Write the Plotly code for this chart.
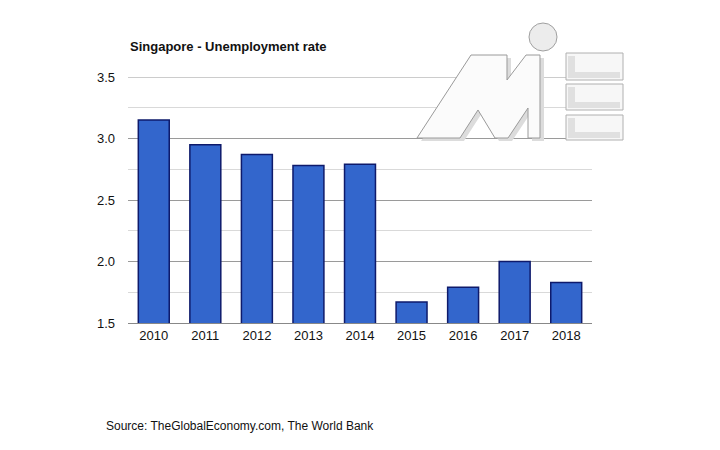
import plotly.graph_objects as go

years = ["2010", "2011", "2012", "2013", "2014", "2015", "2016", "2017", "2018"]
unemployment = [3.15, 2.95, 2.87, 2.78, 2.79, 1.67, 1.79, 2.00, 1.83]
y_ticks = [1.5, 2.0, 2.5, 3.0, 3.5]

L, R, T, B = 128, 592, 77, 323
W, H = 720, 450

def px(x):
    return (x - L) / (R - L)

def py(y):
    return (B - y) / (B - T)

fig = go.Figure()
fig.add_trace(go.Bar(
    x=years, y=unemployment,
    marker=dict(color="#3366CC", line=dict(color="#0E1A6B", width=1.5)),
    hoverinfo="x+y",
))

shapes = []
# top gridline at 3.5
shapes.append(dict(type="line", xref="paper", yref="y", x0=0, x1=1, y0=3.5, y1=3.5,
                   line=dict(color="#9a9a9a", width=1), layer="below"))

def poly(pts, fill, line, width=1):
    d = "M " + " L ".join(f"{px(a):.4f},{py(b):.4f}" for a, b in pts) + " Z"
    return dict(type="path", path=d, xref="paper", yref="paper",
                fillcolor=fill, line=dict(color=line, width=width), layer="above")

m_pts = [(417,138),(471,55),(507,55),(507,80),(526,55),(540,55),(540,138),
         (528,138),(528,108),(508,138),(495,138),(478,110),(460,138)]
shadow = [(a+4, b+3) for a, b in m_pts]
shapes.append(poly(shadow, "#dcdcdc", "rgba(0,0,0,0)", 0))
shapes.append(poly(m_pts, "#fbfbfb", "#9a9a9a", 1))
shapes.append(dict(type="circle", xref="paper", yref="paper",
                   x0=px(529), x1=px(557), y0=py(51), y1=py(23),
                   fillcolor="#ececec", line=dict(color="#a0a0a0", width=1), layer="above"))
for top, bot in [(53, 80), (84, 110), (115, 140)]:
    shapes.append(dict(type="rect", xref="paper", yref="paper",
                       x0=px(566), x1=px(623), y0=py(bot), y1=py(top),
                       fillcolor="#f7f7f7", line=dict(color="#b0b0b0", width=1), layer="above"))
    # soft L-shaped shading inside
    shapes.append(poly([(568, top+3), (575, top+3), (575, bot-8), (620, bot-8),
                        (620, bot-2), (568, bot-2)], "#e0e0e0", "rgba(0,0,0,0)", 0))

fig.update_layout(
    width=W, height=H,
    margin=dict(l=L, r=W - R, t=T, b=H - B),
    paper_bgcolor="white", plot_bgcolor="white",
    showlegend=False,
    bargap=0.4,
    font=dict(family="Liberation Sans, Arial, sans-serif", size=13, color="#222"),
    xaxis=dict(showgrid=False, showline=True, linecolor="#888", linewidth=1,
               ticks="", tickfont=dict(size=13, color="#111")),
    yaxis=dict(range=[1.5, 3.5], tickvals=y_ticks, tickformat=".1f",
               showgrid=True, gridcolor="#9a9a9a", gridwidth=1,
               zeroline=False, ticks="", ticklabelstandoff=12,
               tickfont=dict(size=13, color="#111"),
               minor=dict(dtick=0.25, showgrid=True, gridcolor="#d9d9d9", gridwidth=1)),
    shapes=shapes,
    annotations=[
        dict(text="<b>Singapore - Unemployment rate</b>", xref="paper", yref="paper",
             x=0, y=py(47), xanchor="left", yanchor="middle", showarrow=False,
             font=dict(size=13, color="#111")),
        dict(text="Source: TheGlobalEconomy.com, The World Bank", xref="paper", yref="paper",
             x=px(104), y=py(426), xanchor="left", yanchor="middle", showarrow=False,
             font=dict(size=12, color="#111")),
    ],
)

fig.write_html("out.html")
